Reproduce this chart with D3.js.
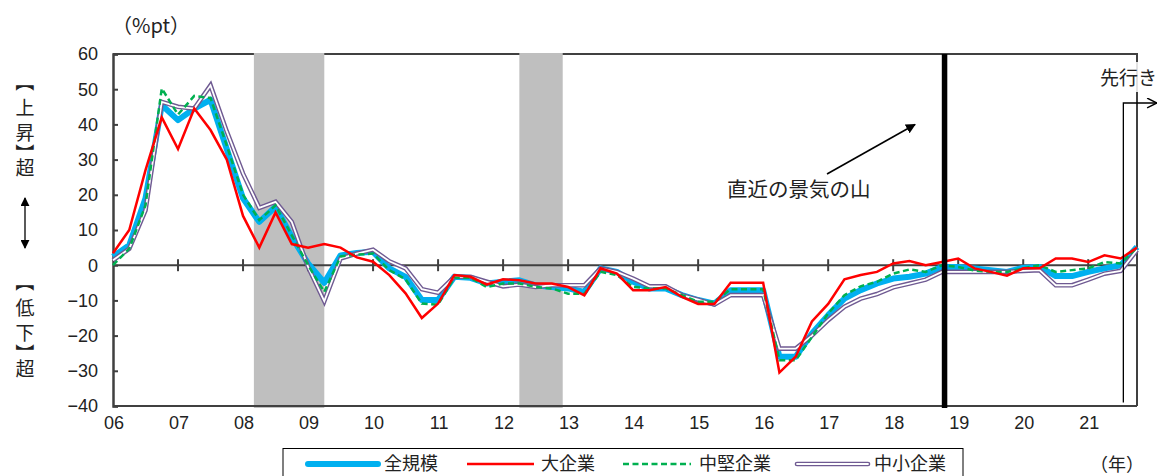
<!DOCTYPE html>
<html>
<head>
<meta charset="utf-8">
<script src="https://cdn.jsdelivr.net/npm/d3@7"></script>
<style>
  html, body { margin: 0; padding: 0; background: #fff; }
  svg { display: block; }
  text { font-family: "Liberation Sans", "Noto Sans CJK JP", sans-serif; fill: #222; }
  .jp { font-family: "Noto Sans CJK JP", "Liberation Sans", sans-serif; }
</style>
</head>
<body>
<svg id="chart" width="1159" height="476"></svg>
<script>
// Quarterly diffusion-index change (%pt), 2006Q1 .. 2021Q4
const startYear = 2006;
const quarterStep = 0.25;

const allSizes = [2.4, 5.7, 19, 45.5, 41.2, 44.5, 47, 33, 19, 12.3, 16.6, 8, 0.5, -5, 2.8, 3.5,
  3.8, -0.9, -3.3, -9.9, -9.9, -3.3, -3.6, -5.2, -4.7, -4.3, -5.7, -6.2, -6.6, -7.6, -0.9, -1.9,
  -4.7, -6.6, -6.6, -8.5, -9.9, -10.9, -7.1, -7.1, -7.1, -26, -26, -19.4, -14.2, -9.5, -7.1, -5.2,
  -3.8, -3.3, -2.4, -0.5, -0.5, -0.9, -1.4, -1.9, -0.7, -0.5, -3.1, -3.1, -1.9, -0.9, 0, 5.2];

const large = [3.4, 10, 27, 42, 33, 44.5, 38.4, 30, 14, 5, 15, 6, 5, 6, 5, 2.2,
  1, -2.8, -8, -15, -10.9, -2.8, -3.3, -5.5, -4, -4.3, -5.2, -5.2, -6.2, -8.6, -0.9, -2.4,
  -7.1, -7.1, -6.2, -9, -11, -11, -5, -5, -5, -30.5, -26, -16, -11, -4, -2.8, -1.9,
  0.5, 1.2, 0, 0.9, 1.9, -0.9, -1.9, -3, -0.9, -0.9, 1.9, 1.9, 0.9, 2.8, 1.9, 5];

const midSized = [0, 4.7, 17, 50.2, 42.8, 48.1, 47.5, 34, 20, 12.8, 17, 8.5, 0, -7.6, 2.5, 3,
  3.3, -1.4, -4, -10.9, -11.2, -3.5, -3.6, -6.2, -5.2, -5.2, -6.2, -6.6, -8.1, -8.1, -1.9, -2.8,
  -6.2, -6.6, -6.6, -8.5, -10.4, -10.4, -6.8, -6.8, -6.8, -27, -27, -20.4, -13.7, -8.5, -6, -4.7,
  -2.4, -1.2, -1.9, 0, -0.5, -1.5, -1.9, -1.9, -0.9, 0, -1.9, -1.4, -0.9, 0.9, 0.5, 5];

const small = [1.4, 4.7, 15.6, 46.4, 45, 44.5, 51.1, 38, 26, 16.3, 18, 12.3, -0.5, -10.2, 1.9, 3.3,
  4.4, 1.1, -0.9, -6.8, -7.8, -3.3, -3.3, -4.7, -6, -5.5, -6.2, -5.7, -5.7, -5.7, -0.9, -1.9,
  -3.8, -6, -6, -8.5, -9.8, -11.2, -8.5, -8.5, -8.5, -23.7, -23.7, -20, -15.6, -11.8, -9.5, -8.2,
  -6.3, -5.2, -4.1, -1.9, -1.9, -1.9, -1.9, -1.9, -1.6, -1.4, -5.7, -5.7, -4.1, -2.4, -1.6, 4.3];

const seriesNames = ["全規模", "大企業", "中堅企業", "中小企業"];
const yearTicks = d3.range(2006, 2022);
const yearLabels = ["06","07","08","09","10","11","12","13","14","15","16","17","18","19","20","21"];
const valueTicks = [-40, -30, -20, -10, 0, 10, 20, 30, 40, 50, 60];
const upCaption = ["【", "上", "昇", "】", "超"];
const downCaption = ["【", "低", "下", "】", "超"];
const recessions = [[2008.167, 2009.25], [2012.25, 2012.917]];
const latestPeak = 2018.79;
const forecastStart = 2021.54;

const svg = d3.select("#chart");
const x = d3.scaleLinear().domain([2006, 2021.75]).range([113, 1137]);
const y = d3.scaleLinear().domain([-40, 60]).range([406, 54]);
const axisColor = "#404040";

const quarters = allSizes.map((_, i) => startYear + i * quarterStep);

// plot frame (top / right)
svg.append("path")
  .attr("d", `M${x(2006)},${y(60)}H${x(2021.75)}V${y(-40)}`)
  .attr("fill", "none").attr("stroke", axisColor).attr("stroke-width", 2);

// recession shading
svg.append("g").selectAll("rect").data(recessions).join("rect")
  .attr("x", d => x(d[0])).attr("width", d => x(d[1]) - x(d[0]))
  .attr("y", y(60) - 1).attr("height", y(-40) - y(60) + 3)
  .attr("fill", "#bfbfbf");

// bottom border
svg.append("line")
  .attr("x1", x(2006)).attr("x2", x(2021.75)).attr("y1", y(-40)).attr("y2", y(-40))
  .attr("stroke", axisColor).attr("stroke-width", 2);

// left axis with inward ticks
const yAxis = d3.axisRight(y).tickValues(valueTicks).tickSize(5).tickFormat("");
const yg = svg.append("g").attr("transform", `translate(${x(2006)},0)`).call(yAxis);
yg.select(".domain").attr("stroke", axisColor).attr("stroke-width", 2.5);
yg.selectAll(".tick line").attr("stroke", axisColor).attr("stroke-width", 2);

// value labels
svg.append("g").selectAll("text").data(valueTicks).join("text")
  .attr("x", 98).attr("y", d => y(d)).attr("dy", "0.36em")
  .attr("text-anchor", "end").attr("font-size", 18)
  .text(d => d < 0 ? "\u2212" + Math.abs(d) : d);

// zero line with crossing year ticks
svg.append("line")
  .attr("x1", x(2006)).attr("x2", x(2021.75)).attr("y1", y(0)).attr("y2", y(0))
  .attr("stroke", axisColor).attr("stroke-width", 2);
svg.append("g").selectAll("line").data(yearTicks.slice(1)).join("line")
  .attr("x1", d => x(d)).attr("x2", d => x(d))
  .attr("y1", y(0) - 6).attr("y2", y(0) + 6)
  .attr("stroke", axisColor).attr("stroke-width", 2);

// year labels
svg.append("g").selectAll("text").data(yearTicks).join("text")
  .attr("x", (d, i) => x(d) + 1).attr("y", 423).attr("dy", "0.36em")
  .attr("text-anchor", "middle").attr("font-size", 18)
  .text((d, i) => yearLabels[i]);

// series lines
const line = d3.line().x((d, i) => x(quarters[i])).y(d => y(d));

svg.append("path").datum(allSizes).attr("d", line)
  .attr("fill", "none").attr("stroke", "#00b0f0").attr("stroke-width", 6)
  .attr("stroke-linejoin", "round");

svg.append("path").datum(small).attr("d", line)
  .attr("fill", "none").attr("stroke", "#6f5a92").attr("stroke-width", 4.6)
  .attr("stroke-linejoin", "miter");
svg.append("path").datum(small).attr("d", line)
  .attr("fill", "none").attr("stroke", "#fff").attr("stroke-width", 1.8)
  .attr("stroke-linejoin", "miter");

svg.append("path").datum(midSized).attr("d", line)
  .attr("fill", "none").attr("stroke", "#00b050").attr("stroke-width", 2.5)
  .attr("stroke-dasharray", "6,3.5");

svg.append("path").datum(large).attr("d", line)
  .attr("fill", "none").attr("stroke", "#ff0000").attr("stroke-width", 2.5)
  .attr("stroke-linejoin", "miter");

// latest business-cycle peak
svg.append("line")
  .attr("x1", x(latestPeak)).attr("x2", x(latestPeak))
  .attr("y1", y(60)).attr("y2", y(-40) + 2)
  .attr("stroke", "#000").attr("stroke-width", 5.5);

// arrow markers
const defs = svg.append("defs");
defs.append("marker").attr("id", "tri").attr("viewBox", "0 0 10 10")
  .attr("refX", 9).attr("refY", 5).attr("markerWidth", 10).attr("markerHeight", 10)
  .attr("markerUnits", "userSpaceOnUse").attr("orient", "auto")
  .append("path").attr("d", "M0,0L10,5L0,10Z").attr("fill", "#000");
defs.append("marker").attr("id", "tri2").attr("viewBox", "0 0 10 10")
  .attr("refX", 9).attr("refY", 5).attr("markerWidth", 9).attr("markerHeight", 9)
  .attr("markerUnits", "userSpaceOnUse").attr("orient", "auto-start-reverse")
  .append("path").attr("d", "M0,0L10,5L0,10Z").attr("fill", "#000");
defs.append("marker").attr("id", "chev").attr("viewBox", "0 0 10 10")
  .attr("refX", 10).attr("refY", 5).attr("markerWidth", 11).attr("markerHeight", 11)
  .attr("markerUnits", "userSpaceOnUse").attr("orient", "auto")
  .append("path").attr("d", "M1,0.5L10,5L1,9.5").attr("fill", "none")
  .attr("stroke", "#000").attr("stroke-width", 1.3);

// forecast marker
svg.append("rect").attr("x", 1095).attr("y", 62).attr("width", 64).attr("height", 30)
  .attr("fill", "#fff").attr("opacity", 0.85);
svg.append("text").attr("class", "jp").attr("x", 1157).attr("y", 78).attr("dy", "0.36em")
  .attr("text-anchor", "end").attr("font-size", 19).text("先行き");

svg.append("path")
  .attr("d", `M${x(forecastStart)},${y(-39)}V103H1157`)
  .attr("fill", "none").attr("stroke", "#000").attr("stroke-width", 1.3)
  .attr("marker-end", "url(#chev)");

// annotation
svg.append("text").attr("class", "jp").attr("x", 727).attr("y", 190).attr("dy", "0.36em")
  .attr("font-size", 20.5).text("直近の景気の山");
svg.append("line").attr("x1", 827).attr("y1", 174).attr("x2", 915).attr("y2", 124.5)
  .attr("stroke", "#000").attr("stroke-width", 1.6).attr("marker-end", "url(#tri)");

// unit labels
svg.append("text").attr("class", "jp").attr("x", 151).attr("y", 26).attr("dy", "0.36em")
  .attr("text-anchor", "middle").attr("font-size", 20).text("（%pt）");
svg.append("text").attr("class", "jp").attr("x", 1117).attr("y", 465).attr("dy", "0.36em")
  .attr("text-anchor", "middle").attr("font-size", 18).text("（年）");

// vertical side captions: brackets turned a quarter turn, one glyph per row
function verticalCaption(chars, centers) {
  const g = svg.append("g");
  chars.forEach((ch, i) => {
    const isBracket = ch === "【" || ch === "】";
    const cy = centers[i];
    // bracket ink sits in one half of its em box; shift so it lands on the row
    const emY = isBracket ? cy + (ch === "【" ? -4 : 4) : cy;
    const t = g.append("text").attr("class", "jp")
      .attr("x", 25).attr("y", emY)
      .attr("text-anchor", "middle").attr("dominant-baseline", "central")
      .attr("font-size", 19).text(ch);
    if (isBracket) t.attr("transform", `rotate(90,25,${emY})`);
  });
}
verticalCaption(upCaption, [86, 106, 131, 149, 166]);
verticalCaption(downCaption, [286, 306, 331, 349, 367]);

svg.append("line").attr("x1", 25).attr("x2", 25).attr("y1", 198).attr("y2", 248)
  .attr("stroke", "#000").attr("stroke-width", 1.3)
  .attr("marker-start", "url(#tri2)").attr("marker-end", "url(#tri2)");

// legend
const legend = svg.append("g");
legend.append("rect").attr("x", 283).attr("y", 448.5).attr("width", 680).attr("height", 40)
  .attr("fill", "#fff").attr("stroke", "#000").attr("stroke-width", 1);
const legendX = [308, 467, 623, 797];
const legendY = 464;
legend.append("line").attr("x1", legendX[0]).attr("x2", legendX[0] + 70)
  .attr("y1", legendY).attr("y2", legendY)
  .attr("stroke", "#00b0f0").attr("stroke-width", 6).attr("stroke-linecap", "round");
legend.append("line").attr("x1", legendX[1]).attr("x2", legendX[1] + 67)
  .attr("y1", legendY).attr("y2", legendY)
  .attr("stroke", "#ff0000").attr("stroke-width", 2.5);
legend.append("line").attr("x1", legendX[2]).attr("x2", legendX[2] + 68)
  .attr("y1", legendY).attr("y2", legendY)
  .attr("stroke", "#00b050").attr("stroke-width", 2.5).attr("stroke-dasharray", "6,3.5");
legend.append("line").attr("x1", legendX[3]).attr("x2", legendX[3] + 71)
  .attr("y1", legendY).attr("y2", legendY)
  .attr("stroke", "#6f5a92").attr("stroke-width", 4.6).attr("stroke-linecap", "round");
legend.append("line").attr("x1", legendX[3]).attr("x2", legendX[3] + 71)
  .attr("y1", legendY).attr("y2", legendY)
  .attr("stroke", "#fff").attr("stroke-width", 1.8).attr("stroke-linecap", "round");
const textX = [384, 541, 699, 874];
legend.selectAll("text.lbl").data(seriesNames).join("text")
  .attr("class", "jp lbl").attr("x", (d, i) => textX[i]).attr("y", legendY).attr("dy", "0.36em")
  .attr("font-size", 18).text(d => d);
</script>
</body>
</html>
